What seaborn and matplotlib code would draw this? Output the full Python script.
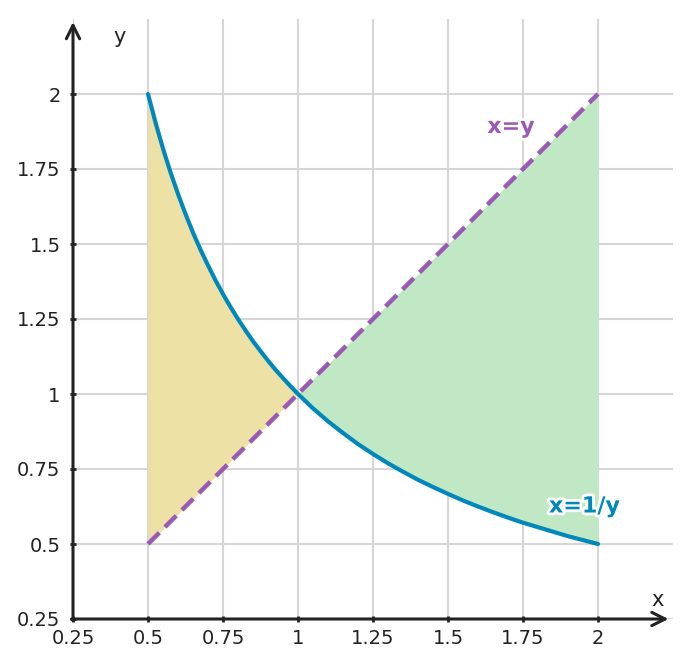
import numpy as np
import matplotlib
matplotlib.use("Agg")
import matplotlib.pyplot as plt
import matplotlib.patheffects as pe
import seaborn as sns

x_curve = [0.5, 0.525, 0.55, 0.575, 0.6, 0.625, 0.65, 0.675, 0.7, 0.725, 0.75,
           0.775, 0.8, 0.825, 0.85, 0.875, 0.9, 0.925, 0.95, 0.975, 1.0,
           1.05, 1.1, 1.15, 1.2, 1.25, 1.3, 1.35, 1.4, 1.45, 1.5,
           1.55, 1.6, 1.65, 1.7, 1.75, 1.8, 1.85, 1.9, 1.95, 2.0]
y_curve = [2.0, 1.905, 1.818, 1.739, 1.667, 1.6, 1.538, 1.481, 1.429, 1.379, 1.333,
           1.29, 1.25, 1.212, 1.176, 1.143, 1.111, 1.081, 1.053, 1.026, 1.0,
           0.952, 0.909, 0.87, 0.833, 0.8, 0.769, 0.741, 0.714, 0.69, 0.667,
           0.645, 0.625, 0.606, 0.588, 0.571, 0.556, 0.541, 0.526, 0.513, 0.5]
# the line x = y
x_line = [0.5, 1.0, 2.0]
y_line = [0.5, 1.0, 2.0]

ticks = [0.25, 0.5, 0.75, 1, 1.25, 1.5, 1.75, 2]
tick_labels = ["0.25", "0.5", "0.75", "1", "1.25", "1.5", "1.75", "2"]

blue = "#0088bb"
purple = "#9b59b6"
dark = "#222222"

sns.set_theme(style="whitegrid")
plt.rcParams['font.family'] = ['DejaVu Sans']

fig = plt.figure(figsize=(6.93, 6.68), dpi=100)
ax = fig.add_axes([73 / 693, 49 / 668, 600 / 693, 600 / 668])
ax.set_facecolor("white")

xc = np.array(x_curve)
yc = np.array(y_curve)
yl = np.interp(xc, x_line, y_line)
left = xc <= 1.0
right = xc >= 1.0
ax.fill_between(xc[left], yl[left], yc[left], color="#ede1a6", lw=0, zorder=1)
ax.fill_between(xc[right], yc[right], yl[right], color="#c1e8c5", lw=0, zorder=1)

sns.lineplot(x=x_line, y=y_line, ax=ax, color=purple, lw=3.2, zorder=3)
ax.lines[-1].set_dashes((3.6, 1.8))
sns.lineplot(x=x_curve, y=y_curve, ax=ax, color=blue, lw=3.0, zorder=4)

ax.set_xlim(0.25, 2.25)
ax.set_ylim(0.25, 2.25)
ax.set_xticks(ticks)
ax.set_xticklabels(tick_labels)
ax.set_yticks(ticks)
ax.set_yticklabels(tick_labels)
ax.grid(True, color="#d6d6d6", lw=1.5)
for s in ax.spines.values():
    s.set_visible(False)
ax.tick_params(axis="both", labelsize=14, colors=dark, length=4, width=2,
               direction="inout", left=True, bottom=True)
ax.tick_params(axis="x", pad=5)
ax.tick_params(axis="y", pad=7)
ax.set_xlabel("")
ax.set_ylabel("")

arrow = dict(arrowstyle="->,head_length=0.8,head_width=0.4", color=dark, lw=2.2,
             shrinkA=0, shrinkB=0)
ax.annotate("", xy=(2.235, 0.25), xytext=(0.245, 0.25), arrowprops=arrow,
            annotation_clip=False, zorder=6)
ax.annotate("", xy=(0.25, 2.24), xytext=(0.25, 0.245), arrowprops=arrow,
            annotation_clip=False, zorder=6)

ax.text(0.405, 2.19, "y", fontsize=15, color=dark, ha="center", va="center")
ax.text(2.2, 0.315, "x", fontsize=15, color=dark, ha="center", va="center")

halo = [pe.withStroke(linewidth=4, foreground="white")]
ax.text(1.71, 1.89, "x=y", fontsize=16, fontweight="bold", color=purple,
        ha="center", va="center", path_effects=halo, zorder=5)
ax.text(1.955, 0.625, "x=1/y", fontsize=16, fontweight="bold", color=blue,
        ha="center", va="center", path_effects=halo, zorder=5)

fig.savefig("out.png", dpi=100)
